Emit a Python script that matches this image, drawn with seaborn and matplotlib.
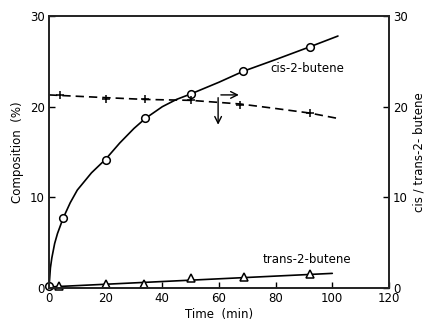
import numpy as np
import pandas as pd
import seaborn as sns
import matplotlib.pyplot as plt

# measured points
cis_t = [0, 5, 20, 34, 50, 68.5, 92]
cis_v = [0.2, 7.7, 14.1, 18.8, 21.4, 23.9, 26.6]
trans_t = [3.5, 20, 33.5, 50, 69, 92]
trans_v = [0.2, 0.4, 0.4, 1.1, 1.2, 1.5]
ratio_t = [4, 20, 34, 50, 67.5, 92]
ratio_v = [21.3, 20.8, 20.8, 20.7, 20.2, 19.3]

# hand-drawn curves
cis_curve_t = [0, 0.5, 1, 2, 3, 5, 7.5, 10, 15, 20, 25, 30, 34, 40, 45, 50,
               60, 68.5, 80, 92, 102]
cis_curve_v = [0, 2.2, 3.3, 4.9, 6.0, 7.7, 9.4, 10.8, 12.7, 14.2, 16.0, 17.6,
               18.7, 20.0, 20.8, 21.4, 22.7, 23.9, 25.2, 26.6, 27.8]
trans_curve_t = [0, 20, 40, 60, 80, 100]
trans_curve_v = [0.1, 0.4, 0.7, 1.0, 1.3, 1.6]
ratio_curve_t = [0, 20, 34, 50, 67.5, 80, 92, 102]
ratio_curve_v = [21.3, 21.0, 20.8, 20.7, 20.3, 19.8, 19.3, 18.7]

sns.set_theme(style="ticks", font="DejaVu Sans")
plt.rcParams["font.family"] = ["DejaVu Sans"]
plt.rcParams["text.color"] = "black"
plt.rcParams["axes.labelcolor"] = "black"
plt.rcParams["xtick.color"] = "black"
plt.rcParams["ytick.color"] = "black"

fs = 8.5
fig = plt.figure(figsize=(4.26, 3.22), dpi=100)
ax = fig.add_axes([0.115, 0.106, 0.798, 0.844])

lw = 1.2
sns.lineplot(x=cis_curve_t, y=cis_curve_v, ax=ax, color="black", lw=lw)
sns.lineplot(x=trans_curve_t, y=trans_curve_v, ax=ax, color="black", lw=lw)
sns.lineplot(x=ratio_curve_t, y=ratio_curve_v, ax=ax, color="black", lw=lw,
             linestyle=(0, (5, 3)))

ax.plot(cis_t, cis_v, "o", ms=5.5, mfc="white", mec="black", mew=1.1, clip_on=False)
ax.plot(trans_t, trans_v, "^", ms=6, mfc="white", mec="black", mew=1.1, clip_on=False)
ax.plot(ratio_t, ratio_v, "+", ms=6, mec="black", mew=1.1)

ax.set_xlim(0, 120)
ax.set_ylim(0, 30)
ax.set_xticks(range(0, 121, 20))
ax.set_yticks([0, 10, 20, 30])
ax.tick_params(direction="in", length=4, width=1, labelsize=fs, pad=3)
for s in ax.spines.values():
    s.set_linewidth(1.1)
    s.set_color("black")

ax.set_xlabel("Time  (min)", fontsize=fs, labelpad=2)
ax.set_ylabel("Composition  (%)", fontsize=fs, labelpad=4)

ax2 = ax.twinx()
ax2.set_ylim(0, 30)
ax2.set_yticks([0, 10, 20, 30])
ax2.tick_params(direction="in", length=4, width=1, labelsize=fs, pad=3)
ax2.set_ylabel("cis / trans-2- butene", fontsize=fs, labelpad=3)

ax.text(78, 24.2, "cis-2-butene", fontsize=fs, va="center")
ax.text(75.5, 3.1, "trans-2-butene", fontsize=fs, va="center")

# arrows pointing to the right axis and to the left axis
ax.annotate("", xy=(68, 21.3), xytext=(59.7, 21.3),
            arrowprops=dict(arrowstyle="->", color="black", lw=1))
ax.annotate("", xy=(59.7, 17.7), xytext=(59.7, 21.3),
            arrowprops=dict(arrowstyle="->", color="black", lw=1))

fig.savefig("out.png", dpi=100)
